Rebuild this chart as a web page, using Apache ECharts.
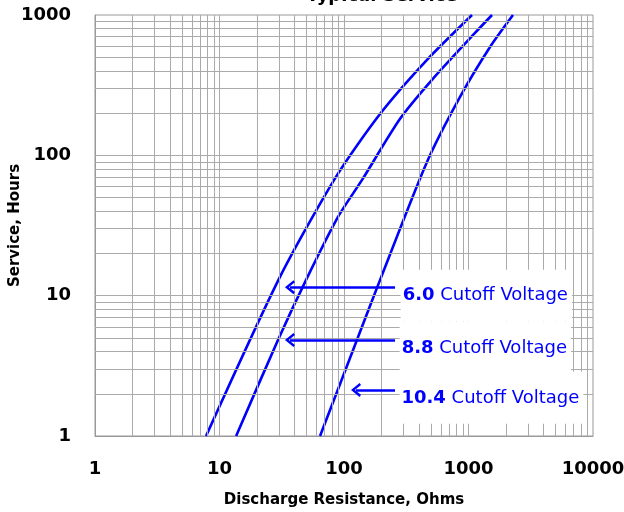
<!DOCTYPE html>
<html>
<head>
<meta charset="utf-8">
<script src="https://cdn.jsdelivr.net/npm/echarts@6/dist/echarts.min.js"></script>
<style>
  html, body { margin: 0; padding: 0; background: #fff; }
  #chart { width: 624px; height: 512px; }
</style>
</head>
<body>
<div id="chart"></div>
<script>
// service curves [resistance (ohms), hours]
const cutoff60 = [[7.8, 1], [30.6, 13.6], [86.2, 70.2], [194.6, 197], [464, 479], [1067, 1000]];
const cutoff88 = [[13.6, 1], [29.5, 4.83], [49.5, 12.9], [89.5, 36.4], [139.6, 66.8], [282, 182], [509, 345], [1128, 745], [1545, 1000]];
const cutoff104 = [[64.2, 1], [127, 4.83], [194.6, 12.9], [464, 89.7], [855, 261], [1489, 592], [2277, 1000]];

// callouts: label, arrow tip x, arrow tail x, arrow y, label anchor [x, y]
const callouts = [
  { bold: '6.0', text: ' Cutoff Voltage', tip: 36.8, tail: 257, y: 11.5, at: [285, 10] },
  { bold: '8.8', text: ' Cutoff Voltage', tip: 36.8, tail: 257, y: 4.83, at: [280, 4.24] },
  { bold: '10.4', text: ' Cutoff Voltage', tip: 124.9, tail: 257, y: 2.13, at: [279, 1.87] }
];

const xTicks = [1, 10, 100, 1000, 10000];
const yTicks = [1, 10, 100, 1000];

const BLUE = '#0000ff';
const GRID = '#aaaaaa';

// 1..9 x 10^k gridlines
function logLines(min, max) {
  const out = [];
  for (let d = min; d < max; d *= 10) {
    for (let m = 1; m <= 9; m++) {
      const v = d * m;
      if (v > min && v < max) out.push(v);
    }
  }
  return out;
}
const gridLines = [
  ...logLines(1, 10000).map(v => ({ xAxis: v })),
  ...logLines(1, 1000).map(v => ({ yAxis: v }))
];

const chevron = 'path://M6,0 L12,9 L10.2,10.5 L6,4 L1.8,10.5 L0,9 Z';

const chart = echarts.init(document.getElementById('chart'));

const curveSeries = [cutoff60, cutoff88, cutoff104].map(d => ({
  type: 'line',
  data: d,
  smooth: 0.25,
  symbol: 'none',
  z: 3,
  lineStyle: { color: BLUE, width: 2.6 }
}));

const arrowSeries = {
  type: 'line',
  data: [],
  z: 4,
  markLine: {
    silent: true,
    animation: false,
    symbol: [chevron, 'none'],
    symbolSize: [14, 10],
    label: { show: false },
    lineStyle: { color: BLUE, width: 2.6, type: 'solid', opacity: 1 },
    data: callouts.map(c => [{ coord: [c.tip, c.y] }, { coord: [c.tail, c.y] }])
  }
};

const labelSeries = {
  type: 'scatter',
  symbolSize: 0,
  z: 5,
  itemStyle: { opacity: 1 },
  data: callouts.map(c => ({ value: c.at, name: c.bold, text: c.text })),
  label: {
    show: true,
    position: 'right',
    distance: 0,
    backgroundColor: '#fff',
    padding: [17, 4, 17, 2],
    formatter: p => '{b|' + p.name + '}{n|' + p.data.text + '}',
    rich: {
      b: { fontFamily: 'DejaVu Sans', fontWeight: 'bold', fontSize: 18, color: BLUE },
      n: { fontFamily: 'DejaVu Sans', fontSize: 18, color: BLUE }
    }
  }
};

const gridSeries = {
  type: 'line',
  data: [],
  z: 1,
  markLine: {
    silent: true,
    animation: false,
    symbol: ['none', 'none'],
    label: { show: false },
    lineStyle: { color: GRID, width: 1, type: 'solid', opacity: 1 },
    data: gridLines
  }
};

chart.setOption({
  animation: false,
  title: {
    text: 'Typical Service',
    left: 377,
    textAlign: 'center',
    top: -18,
    textStyle: { fontFamily: 'DejaVu Sans', fontWeight: 'bold', fontSize: 18, color: '#000' }
  },
  grid: {
    left: 95, right: 31, top: 15, bottom: 76,
    outerBoundsMode: 'none',
    containLabel: false,
    show: true, borderColor: '#999', borderWidth: 1
  },
  xAxis: {
    type: 'log',
    logBase: 10,
    min: xTicks[0],
    max: xTicks[xTicks.length - 1],
    name: 'Discharge Resistance, Ohms',
    nameLocation: 'middle',
    nameGap: 57,
    nameMoveOverlap: false,
    nameTextStyle: { fontFamily: 'DejaVu Sans', fontWeight: 'bold', fontSize: 15, color: '#000' },
    axisLine: { lineStyle: { color: '#999' } },
    axisTick: { show: false },
    splitLine: { show: false },
    axisLabel: {
      margin: 24,
      hideOverlap: false,
      fontFamily: 'DejaVu Sans', fontWeight: 'bold', fontSize: 18, color: '#000',
      formatter: v => xTicks.includes(v) ? String(v) : ''
    }
  },
  yAxis: {
    type: 'log',
    logBase: 10,
    min: yTicks[0],
    max: yTicks[yTicks.length - 1],
    name: 'Service, Hours',
    nameLocation: 'middle',
    nameGap: 72,
    nameMoveOverlap: false,
    nameTextStyle: { fontFamily: 'DejaVu Sans', fontWeight: 'bold', fontSize: 15, color: '#000' },
    axisLine: { lineStyle: { color: '#999' } },
    axisTick: { show: false },
    splitLine: { show: false },
    axisLabel: {
      margin: 24,
      fontFamily: 'DejaVu Sans', fontWeight: 'bold', fontSize: 18, color: '#000',
      formatter: v => yTicks.includes(v) ? String(v) : ''
    }
  },
  series: [gridSeries, ...curveSeries, arrowSeries, labelSeries]
});
</script>
</body>
</html>
